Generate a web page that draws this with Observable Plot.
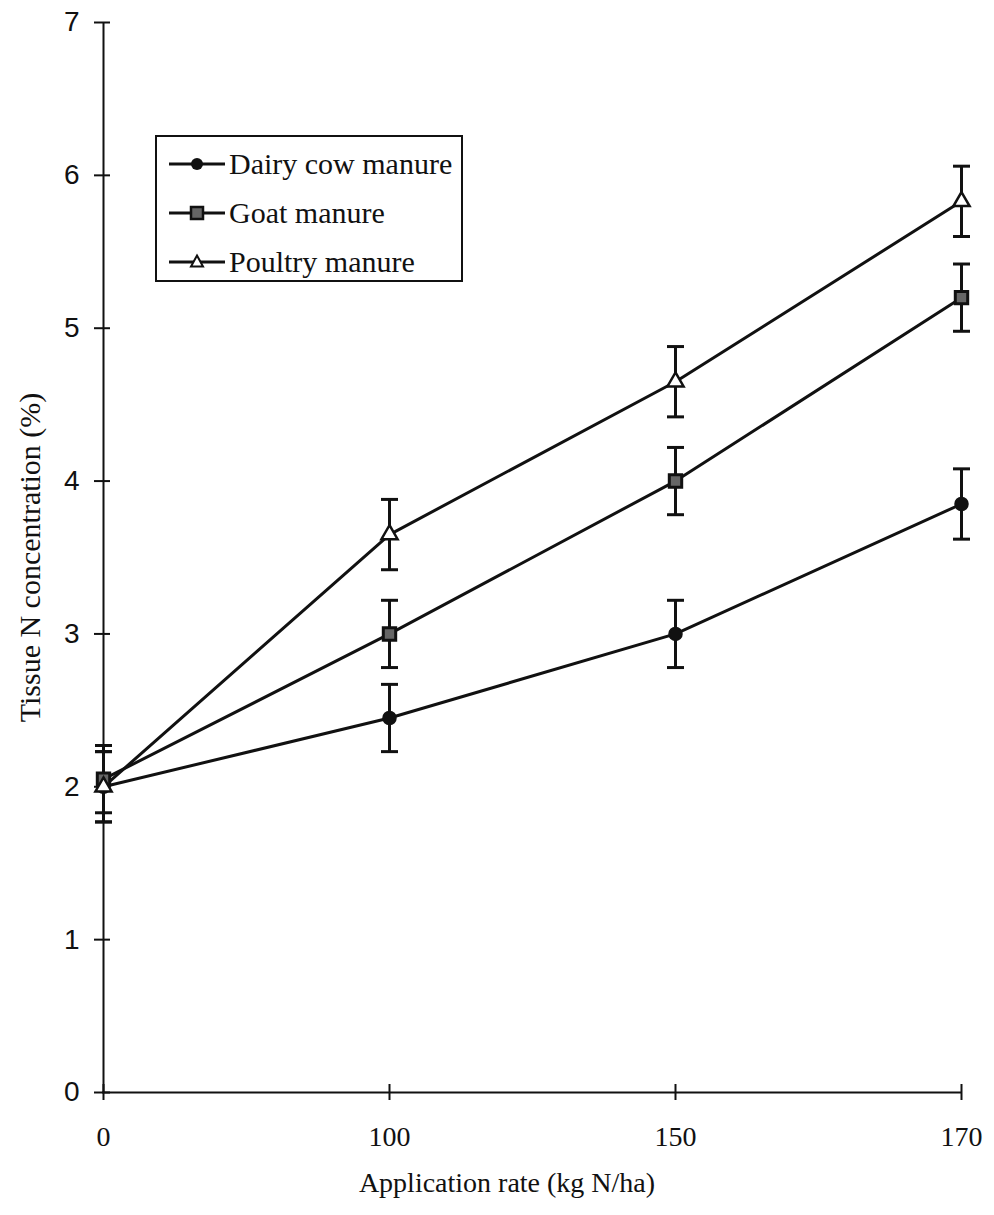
<!DOCTYPE html>
<html>
<head>
<meta charset="utf-8">
<script src="https://cdn.jsdelivr.net/npm/d3@7"></script>
<script src="https://cdn.jsdelivr.net/npm/@observablehq/plot@0.6"></script>
<style>
  html, body { margin: 0; padding: 0; background: #fff; }
  #wrap { position: relative; width: 994px; height: 1215px; }
  #legend {
    position: absolute; left: 155px; top: 135px; width: 304px; height: 143px;
    border: 2px solid #111; background: #fff; box-sizing: content-box;
    font-family: "Liberation Serif", "Times New Roman", serif; font-size: 30px; color: #111;
  }
  .row { position: absolute; left: 0; height: 30px; display: flex; align-items: center; white-space: nowrap; }
  .row svg { margin-left: 12px; margin-right: 4px; }
</style>
</head>
<body>
<div id="wrap"></div>
<script>
// Application rates (kg N/ha) shown as evenly spaced categories
const rates = ["0", "100", "150", "170"];
const seriesNames = ["Dairy cow manure", "Goat manure", "Poultry manure"];

// Tissue N concentration (%) per series
const dairy = [2.0, 2.45, 3.0, 3.85];
const goat = [2.05, 3.0, 4.0, 5.2];
const poultry = [2.0, 3.65, 4.65, 5.83];

// Half-width of error bars
const dairyErr = [0.23, 0.22, 0.22, 0.23];
const goatErr = [0.22, 0.22, 0.22, 0.22];
const poultryErr = [0.23, 0.23, 0.23, 0.23];

const yTicks = [0, 1, 2, 3, 4, 5, 6, 7];

const values = [dairy, goat, poultry];
const errors = [dairyErr, goatErr, poultryErr];
const rows = seriesNames.flatMap((s, i) =>
  rates.map((r, j) => ({series: s, rate: r, value: values[i][j], err: errors[i][j]}))
);

// Horizontal bar glyph used for error-bar caps
const capSymbol = {
  draw(context, size) {
    const r = Math.sqrt(size / Math.PI);
    context.moveTo(-r, 0);
    context.lineTo(r, 0);
  }
};

const ink = "#111";
const serif = "Liberation Serif, Times New Roman, serif";

const chart = Plot.plot({
  width: 994,
  height: 1215,
  marginLeft: 102,
  marginRight: 33,
  marginTop: 22,
  marginBottom: 123,
  style: {background: "#fff", color: ink},
  x: {type: "point", domain: rates, padding: 0},
  y: {domain: [0, 7]},
  marks: [
    // axis lines
    Plot.ruleX([rates[0]], {stroke: ink, strokeWidth: 2}),
    Plot.ruleY([0], {stroke: ink, strokeWidth: 2}),
    // tick marks crossing the axes
    Plot.axisY({ticks: yTicks, tickSize: 16, dx: 8, tickFormat: () => "", label: null, stroke: ink, strokeWidth: 2}),
    Plot.axisX({ticks: rates, tickSize: 16, dy: -8, tickFormat: () => "", label: null, stroke: ink, strokeWidth: 2}),
    // tick labels
    Plot.axisY({ticks: yTicks, tickSize: 0, tickPadding: 23, label: null, fontSize: 28, tickFormat: "d",
      fontFamily: "Liberation Sans, Arial, sans-serif", fill: ink}),
    Plot.axisX({ticks: rates, tickSize: 0, tickPadding: 34, label: null, fontSize: 28,
      fontFamily: serif, fill: ink}),
    // axis titles
    Plot.text(["Tissue N concentration (%)"], {frameAnchor: "left", textAnchor: "middle", rotate: -90, dx: -72,
      fontSize: 30, fontFamily: serif, fill: ink}),
    Plot.text(["Application rate (kg N/ha)"], {frameAnchor: "bottom", textAnchor: "middle", dx: -25, dy: 99,
      fontSize: 28, fontFamily: serif, fill: ink}),
    // series lines
    Plot.line(rows, {x: "rate", y: "value", z: "series", stroke: ink, strokeWidth: 3}),
    // error bars
    Plot.ruleX(rows, {x: "rate", y1: d => d.value - d.err, y2: d => d.value + d.err, stroke: ink, strokeWidth: 3}),
    Plot.dot(rows, {x: "rate", y: d => d.value - d.err, symbol: capSymbol, r: 8.5, stroke: ink, strokeWidth: 3}),
    Plot.dot(rows, {x: "rate", y: d => d.value + d.err, symbol: capSymbol, r: 8.5, stroke: ink, strokeWidth: 3}),
    // markers
    Plot.dot(rows.filter(d => d.series === seriesNames[0]), {x: "rate", y: "value", symbol: "circle", r: 6.5, fill: ink, stroke: ink}),
    Plot.dot(rows.filter(d => d.series === seriesNames[1]), {x: "rate", y: "value", symbol: "square", r: 7, fill: "#666", stroke: ink, strokeWidth: 3}),
    Plot.dot(rows.filter(d => d.series === seriesNames[2]), {x: "rate", y: "value", symbol: "triangle", r: 6, fill: "#fff", stroke: ink, strokeWidth: 2.5})
  ]
});

const wrap = document.getElementById("wrap");
wrap.appendChild(chart);

// Legend box placed inside the plot area
const legend = document.createElement("div");
legend.id = "legend";
const glyphs = [
  `<circle cx="28" cy="10" r="6" fill="${ink}"/>`,
  `<rect x="22" y="4" width="12" height="12" fill="#666" stroke="${ink}" stroke-width="2.5"/>`,
  `<path d="M28,3.5 L34,14.5 L22,14.5 Z" fill="#fff" stroke="${ink}" stroke-width="2"/>`
];
seriesNames.forEach((name, i) => {
  const row = document.createElement("div");
  row.className = "row";
  row.style.top = (12 + i * 49) + "px";
  row.innerHTML = `<svg width="56" height="20" viewBox="0 0 56 20"><line x1="0" y1="10" x2="56" y2="10" stroke="${ink}" stroke-width="3"/>${glyphs[i]}</svg><span>${name}</span>`;
  legend.appendChild(row);
});
wrap.appendChild(legend);
</script>
</body>
</html>
